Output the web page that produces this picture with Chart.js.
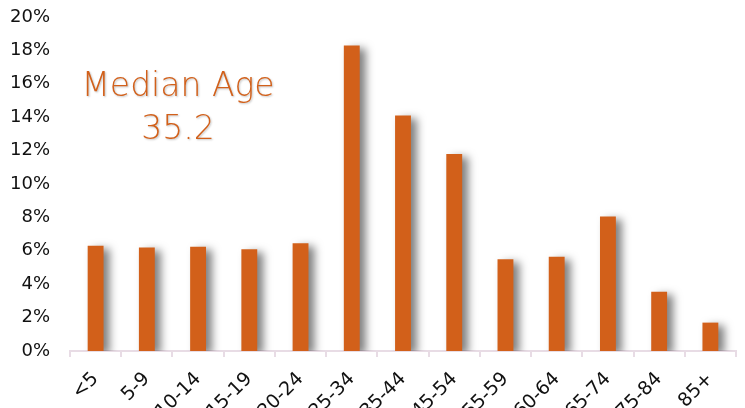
<!DOCTYPE html>
<html>
<head>
<meta charset="utf-8">
<script src="https://cdn.jsdelivr.net/npm/chart.js@4"></script>
<style>
    html, body { margin: 0; padding: 0; background: #fff; overflow: hidden; }
    #wrap { width: 745px; height: 408px; position: relative; }
</style>
</head>
<body>
<div id="wrap"><canvas id="ageChart"></canvas></div>
<script>
// Age groups and share of population (%)
var ageGroups = ['<5', '5-9', '10-14', '15-19', '20-24', '25-34', '35-44', '45-54', '55-59', '60-64', '65-74', '75-84', '85+'];
var populationShare = [6.3, 6.2, 6.25, 6.1, 6.45, 18.3, 14.1, 11.8, 5.5, 5.65, 8.05, 3.55, 1.7];
var medianLines = ['Median Age', '35.2'];

var orange = '#D2601A';
var axisPink = '#E8DCE5';

// soft drop shadow behind the bars
var barShadow = {
    id: 'barShadow',
    beforeDatasetsDraw: function(chart) {
        var ctx = chart.ctx;
        ctx.save();
        ctx.shadowColor = 'rgba(0,0,0,0.5)';
        ctx.shadowBlur = 9;
        ctx.shadowOffsetX = 6;
        ctx.shadowOffsetY = 3;
    },
    afterDatasetsDraw: function(chart) {
        chart.ctx.restore();
    }
};

// "Median Age" note in the upper left of the plot
var medianNote = {
    id: 'medianNote',
    afterDraw: function(chart) {
        var ctx = chart.ctx;
        var area = chart.chartArea;
        ctx.save();
        ctx.font = '200 33px "DejaVu Sans"';
        ctx.fillStyle = orange;
        ctx.textAlign = 'center';
        ctx.textBaseline = 'middle';
        ctx.shadowColor = 'rgba(0,0,0,0.25)';
        ctx.shadowBlur = 2;
        ctx.shadowOffsetX = 1;
        ctx.shadowOffsetY = 1;
        var cx = area.left + 108;
        ctx.fillText(medianLines[0], cx, area.top + 70);
        ctx.fillText(medianLines[1], cx, area.top + 113);
        ctx.restore();
    }
};

var ctx = document.getElementById('ageChart').getContext('2d');
var chart = new Chart(ctx, {
    type: 'bar',
    data: {
        labels: ageGroups,
        datasets: [{
            label: 'Population',
            data: populationShare,
            backgroundColor: orange,
            barPercentage: 0.62,
            categoryPercentage: 0.5
        }]
    },
    options: {
        responsive: true,
        maintainAspectRatio: false,
        animation: false,
        layout: { padding: { top: 17, right: 9, left: 0, bottom: 0 } },
        plugins: {
            legend: { display: false },
            tooltip: { enabled: false }
        },
        scales: {
            x: {
                // always slant the age labels
                afterCalculateLabelRotation: function(scale) { scale.labelRotation = 45; },
                afterFit: function(scale) { scale.height = 57; },
                grid: {
                    display: true,
                    drawOnChartArea: false,
                    drawTicks: true,
                    tickLength: 6,
                    color: axisPink,
                    lineWidth: 2
                },
                border: { display: true, color: axisPink, width: 2 },
                ticks: {
                    autoSkip: false,
                    padding: 11,
                    color: '#111',
                    font: { family: 'DejaVu Sans', size: 19 }
                }
            },
            y: {
                min: 0,
                max: 20,
                afterFit: function(scale) { scale.width = 70; },
                // tick marks hidden, tickLength only pushes labels left
                grid: { display: false, drawTicks: true, tickLength: 17 },
                border: { display: false },
                ticks: {
                    stepSize: 2,
                    padding: 3,
                    color: '#111',
                    font: { family: 'DejaVu Sans', size: 18 },
                    callback: function(v) { return v + '%'; }
                }
            }
        }
    },
    plugins: [barShadow, medianNote]
});
</script>
</body>
</html>
